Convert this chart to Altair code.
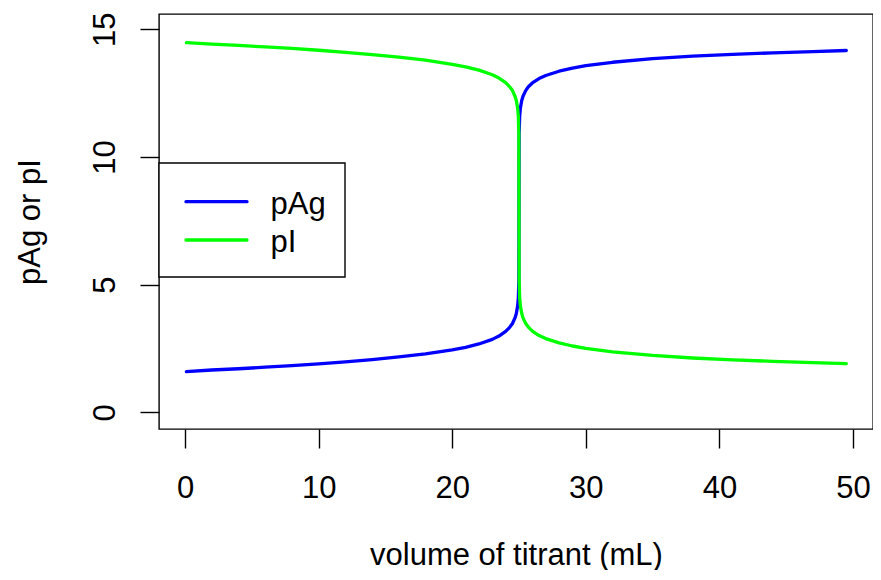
import altair as alt
import pandas as pd

# values
volume = [0.1, 2, 4, 6, 8, 10, 12, 14, 16, 18, 20, 21, 22, 23, 23.5, 24, 24.3, 24.5, 24.7,
          24.8, 24.9, 24.95, 24.99, 25.0, 25.01, 25.05, 25.1, 25.2, 25.3, 25.5, 25.7, 26,
          26.5, 27, 28, 29, 30, 32, 35, 38, 41, 44, 47, 49.5]
pAg = [1.60, 1.66, 1.71, 1.77, 1.83, 1.90, 1.98, 2.07, 2.17, 2.29, 2.45, 2.55, 2.68, 2.86, 2.99,
       3.17, 3.33, 3.47, 3.70, 3.87, 4.18, 4.48, 5.18, 8.04, 10.90, 11.60, 11.90, 12.20,
       12.38, 12.60, 12.75, 12.90, 13.07, 13.19, 13.36, 13.48, 13.58, 13.71, 13.85, 13.95,
       14.02, 14.08, 14.13, 14.17]
pI = [14.48, 14.42, 14.37, 14.31, 14.25, 14.18, 14.10, 14.01, 13.91, 13.79, 13.63, 13.53, 13.40,
      13.22, 13.09, 12.91, 12.75, 12.61, 12.38, 12.21, 11.90, 11.60, 10.90, 8.04, 5.18, 4.48,
      4.18, 3.88, 3.70, 3.48, 3.34, 3.18, 3.01, 2.89, 2.72, 2.60, 2.51, 2.37, 2.23, 2.13,
      2.06, 2.00, 1.95, 1.91]

series_names = ["pAg", "pI"]
series_colors = ["#0000FF", "#00FF00"]
x_ticks = [0, 10, 20, 30, 40, 50]
y_ticks = [0, 5, 10, 15]

FONT = "Liberation Sans"
FS = 31

n = len(volume)
df = pd.DataFrame({
    "volume": volume + volume,
    "value": pAg + pI,
    "series": [series_names[0]] * n + [series_names[1]] * n,
})

x_enc = alt.X(
    "volume:Q",
    scale=alt.Scale(domain=[-1.95, 51.5], nice=False, zero=False),
    axis=alt.Axis(
        values=x_ticks, title="volume of titrant (mL)", tickSize=19,
        labelPadding=25, labelBaseline="top", labelAlign="center",
        titleX=357, titleY=135, titleBaseline="alphabetic", titleAlign="center",
        labelFlush=False, labelOverlap=False,
    ),
)
y_enc = alt.Y(
    "value:Q",
    scale=alt.Scale(domain=[-0.65, 15.6], nice=False, zero=False),
    axis=alt.Axis(
        values=y_ticks, title="pAg or pI", tickSize=19,
        labelAngle=270, labelAlign="center", labelBaseline="alphabetic", labelPadding=26,
        titleAngle=270, titleAlign="center", titleBaseline="alphabetic",
        titleX=-120, titleY=207.5, labelFlush=False, labelOverlap=False,
    ),
)

base = alt.Chart(df)
layers = []
for name, col in zip(series_names, series_colors):
    layers.append(
        base.transform_filter(alt.datum.series == name)
        .mark_line(color=col, strokeWidth=3.3, strokeCap="round", strokeJoin="round")
        .encode(x=x_enc, y=y_enc, order="volume:Q")
    )

# legend (box, line keys, labels)
dummy = alt.Chart(pd.DataFrame({"k": [0]}))
layers.append(
    dummy.mark_rect(fill="white", stroke="black", strokeWidth=1.4).encode(
        x=alt.value(0), x2=alt.value(186), y=alt.value(149), y2=alt.value(263)
    )
)
key_y = [187.7, 226.0]
for name, col, ky in zip(series_names, series_colors, key_y):
    layers.append(
        dummy.mark_rule(color=col, strokeWidth=3.3, strokeCap="round").encode(
            x=alt.value(27), x2=alt.value(88), y=alt.value(ky), y2=alt.value(ky)
        )
    )
    layers.append(
        dummy.mark_text(align="left", baseline="alphabetic", font=FONT, fontSize=FS,
                        color="black").encode(
            x=alt.value(111.5), y=alt.value(ky + 12), text=alt.value(name)
        )
    )

chart = alt.layer(*layers).properties(
    width=714, height=415,
    autosize=alt.AutoSizeParams(type="none"),
    padding={"left": 151, "top": 6, "right": 0, "bottom": 141},
    background="white",
).configure_view(
    stroke="black", strokeWidth=1.4
).configure_axis(
    domain=False, grid=False, tickColor="black", tickWidth=1.4,
    labelColor="black", titleColor="black", labelFont=FONT, titleFont=FONT,
    labelFontSize=FS, titleFontSize=FS, titleFontWeight="normal",
)

chart.save("out.html", embed_options={"renderer": "svg", "actions": False})
